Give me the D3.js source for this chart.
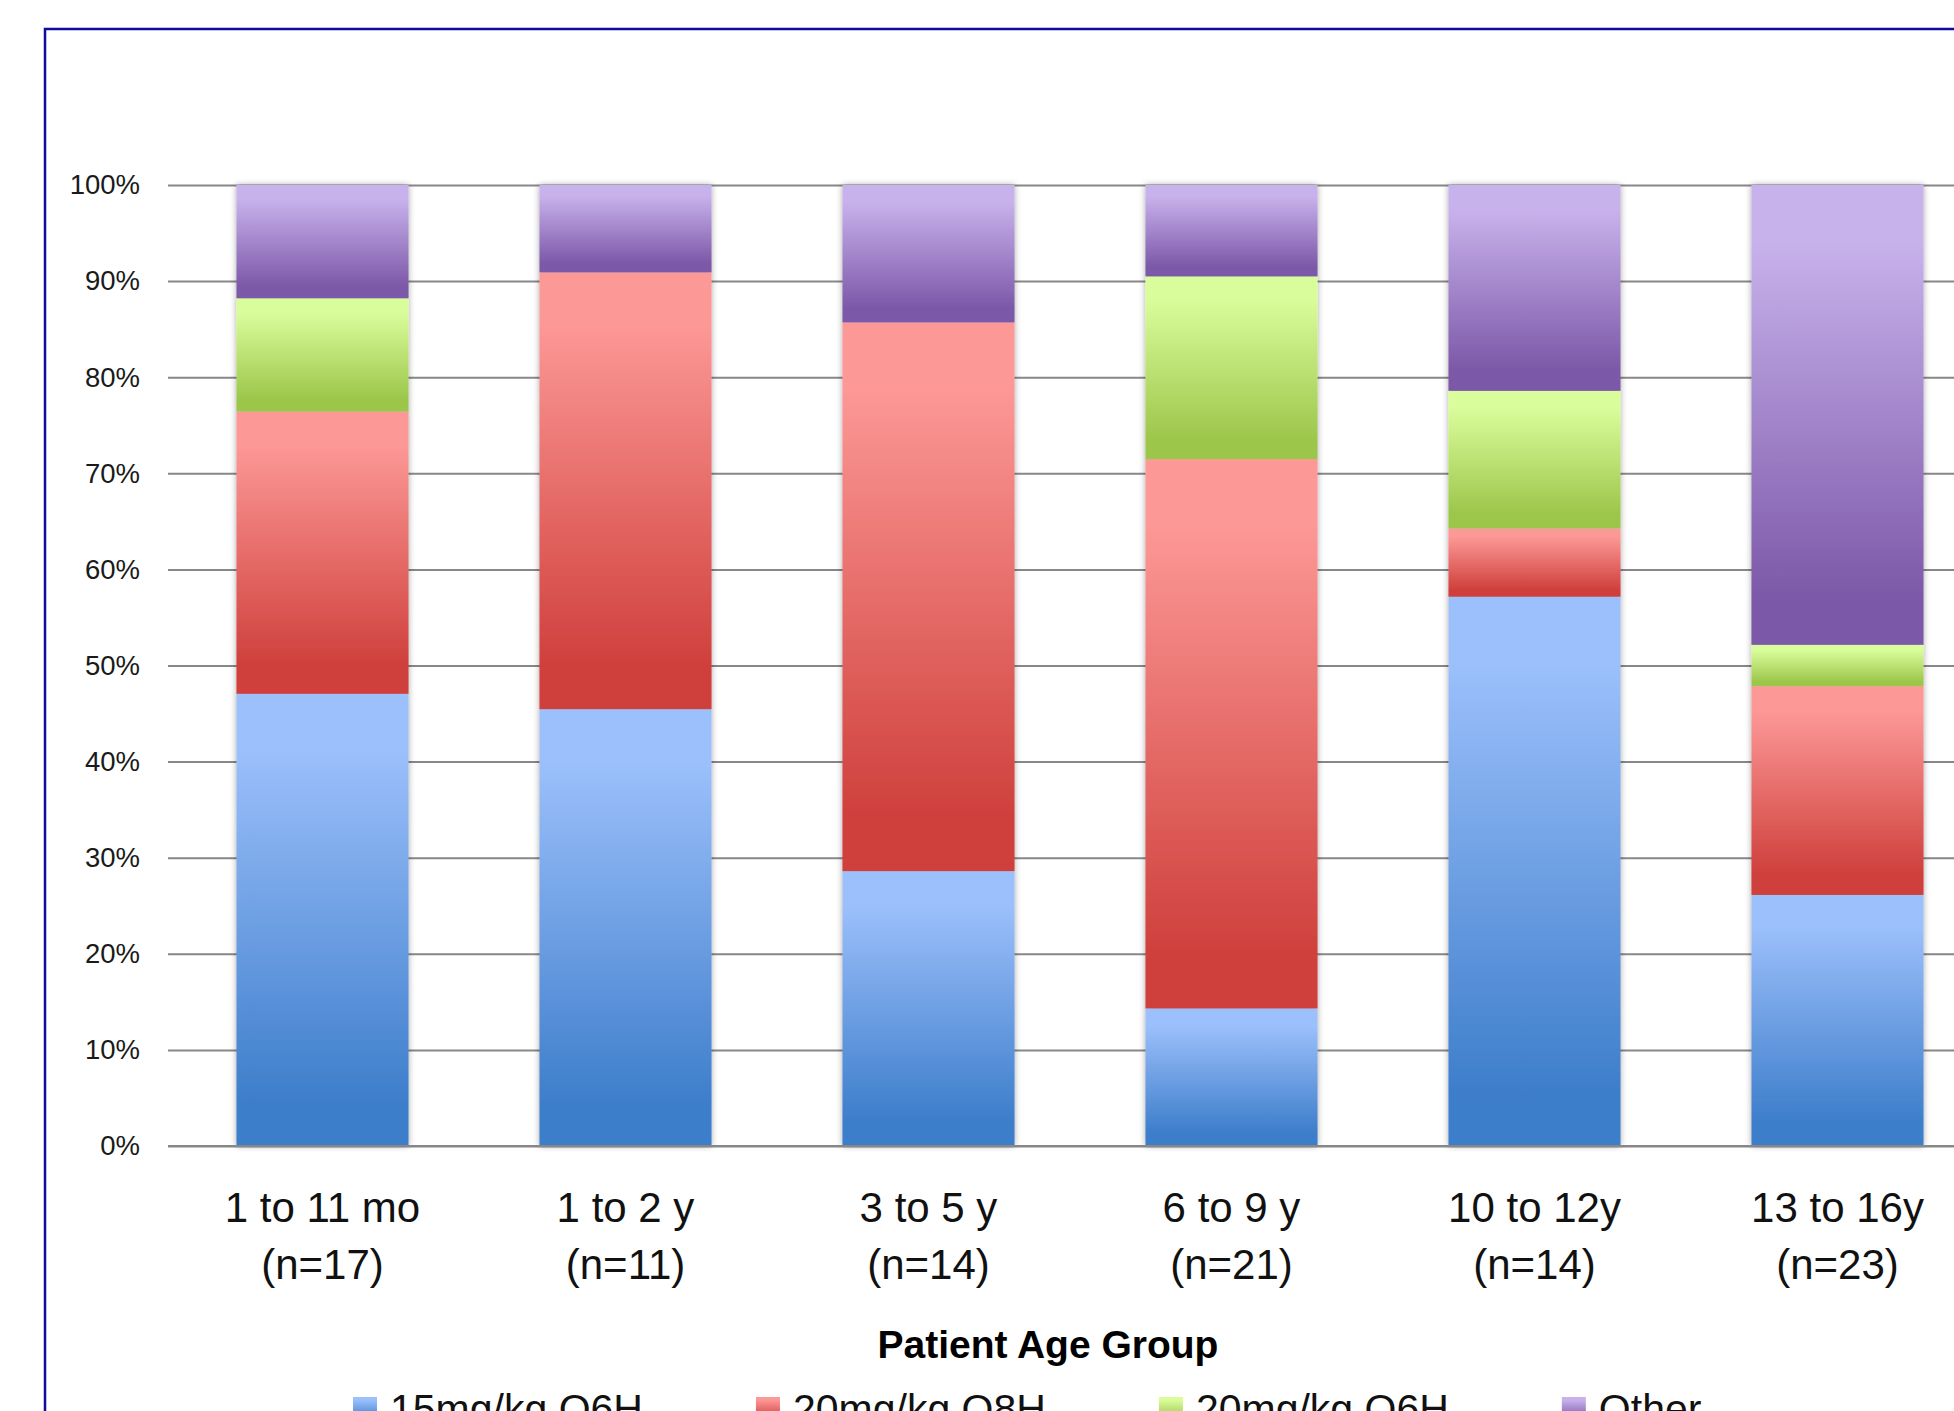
<!DOCTYPE html>
<html>
<head>
<meta charset="utf-8">
<script src="https://cdn.jsdelivr.net/npm/d3@7"></script>
<style>
  html, body { margin: 0; padding: 0; background: #fff; }
  svg { display: block; font-family: "Liberation Sans", Arial, sans-serif; }
</style>
</head>
<body>
<div id="elements"></div>
<script>
'use strict';
// 100% stacked bars: dosing regimen share per patient age group

var categories = ["1 to 11 mo", "1 to 2 y", "3 to 5 y", "6 to 9 y", "10 to 12y", "13 to 16y"];
var groupSizes = ["(n=17)", "(n=11)", "(n=14)", "(n=21)", "(n=14)", "(n=23)"];
var seriesNames = ["15mg/kg Q6H", "20mg/kg Q8H", "20mg/kg Q6H", "Other"];

// percent of patients
var dose15Q6 = [47.1, 45.5, 28.6, 14.3, 57.1, 26.1];
var dose20Q8 = [29.4, 45.5, 57.1, 57.1, 7.1, 21.7];
var dose20Q6 = [11.8, 0, 0, 19.0, 14.3, 4.3];
var other    = [11.8, 9.1, 14.3, 9.5, 21.4, 47.8];

var yTicks = [0, 0.1, 0.2, 0.3, 0.4, 0.5, 0.6, 0.7, 0.8, 0.9, 1];

var gradColors = [
    ["#9cc0fb", "#3e7ecb"],
    ["#fc9896", "#cf403c"],
    ["#dafd9c", "#9cc64a"],
    ["#c8b2ec", "#7c58a8"]
];

var W = 1954, H = 1411;
var svg = d3.select("#elements").append("svg").attr("width", W).attr("height", H);

var defs = svg.append("defs");
gradColors.forEach(function(c, i) {
    var g = defs.append("linearGradient")
        .attr("id", "grad" + i)
        .attr("x1", 0).attr("y1", 0).attr("x2", 0).attr("y2", 1);
    g.append("stop").attr("offset", "0").attr("stop-color", c[0]);
    g.append("stop").attr("offset", "0.12").attr("stop-color", c[0]);
    g.append("stop").attr("offset", "0.9").attr("stop-color", c[1]);
    g.append("stop").attr("offset", "1").attr("stop-color", c[1]);
});
var shadow = defs.append("filter").attr("id", "shadow")
    .attr("x", "-10%").attr("y", "-2%").attr("width", "120%").attr("height", "104%");
shadow.append("feDropShadow")
    .attr("dx", 0).attr("dy", 0).attr("stdDeviation", 3)
    .attr("flood-color", "#000").attr("flood-opacity", 0.35);

// outer frame
svg.append("rect")
    .attr("x", 45).attr("y", 29)
    .attr("width", 2100).attr("height", 2100)
    .attr("fill", "none")
    .attr("stroke", "#0c0c9e")
    .attr("stroke-width", 2.5);

var rows = categories.map(function(c, i) {
    return {cat: c, s0: dose15Q6[i], s1: dose20Q8[i], s2: dose20Q6[i], s3: other[i]};
});
var keys = ["s0", "s1", "s2", "s3"];
var stacked = d3.stack().keys(keys).offset(d3.stackOffsetExpand)(rows);

var x = d3.scaleBand()
    .domain(categories)
    .range([171, 1989])
    .paddingInner(0.432)
    .paddingOuter(0.216);
var y = d3.scaleLinear().domain([0, 1]).range([1146, 185]);

// gridlines + tick labels
var axisLeft = svg.append("g")
    .attr("transform", "translate(168,0)")
    .call(d3.axisLeft(y).tickValues(yTicks).tickSize(-1900).tickPadding(28).tickFormat(d3.format(".0%")));
axisLeft.select(".domain").remove();
axisLeft.selectAll(".tick line")
    .attr("stroke", "#878787")
    .attr("stroke-width", 2);
axisLeft.selectAll(".tick text")
    .attr("fill", "#1a1a1a")
    .style("font-size", "27.5px");

// bars
var barG = svg.append("g");
categories.forEach(function(c, ci) {
    var col = barG.append("g").attr("filter", "url(#shadow)");
    stacked.forEach(function(layer, li) {
        var d = layer[ci];
        if (d[1] - d[0] <= 0) return;
        col.append("rect")
            .attr("x", x(c))
            .attr("width", x.bandwidth())
            .attr("y", y(d[1]))
            .attr("height", y(d[0]) - y(d[1]))
            .attr("fill", "url(#grad" + li + ")");
    });
});

// baseline on top
svg.append("line")
    .attr("x1", 168).attr("x2", W)
    .attr("y1", y(0)).attr("y2", y(0))
    .attr("stroke", "#878787").attr("stroke-width", 2);

// category labels
var labG = svg.append("g").style("font-size", "42px").attr("fill", "#111").attr("text-anchor", "middle");
categories.forEach(function(c, i) {
    var cx = x(c) + x.bandwidth() / 2;
    labG.append("text").attr("x", cx).attr("y", 1222).text(c);
    labG.append("text").attr("x", cx).attr("y", 1279).text(groupSizes[i]);
});

// axis title
svg.append("text")
    .attr("x", 1048).attr("y", 1358)
    .attr("text-anchor", "middle")
    .style("font-size", "39px")
    .style("font-weight", "700")
    .attr("fill", "#000")
    .text("Patient Age Group");

// legend
var legend = svg.append("g");
var lx = 353;
seriesNames.forEach(function(name, i) {
    legend.append("rect")
        .attr("x", lx).attr("y", 1397)
        .attr("width", 24).attr("height", 24)
        .attr("fill", "url(#grad" + i + ")");
    var t = legend.append("text")
        .attr("x", lx + 37).attr("y", 1423)
        .style("font-size", "41px")
        .attr("fill", "#111")
        .text(name);
    lx += 37 + t.node().getComputedTextLength() + 113;
});
</script>
</body>
</html>
